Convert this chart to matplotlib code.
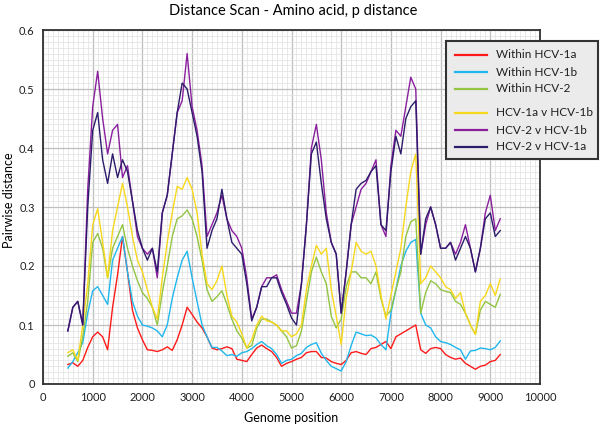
import matplotlib
matplotlib.use("Agg")
import matplotlib.pyplot as plt
import numpy as np
from matplotlib.ticker import MultipleLocator
from matplotlib.patches import Rectangle
from matplotlib.lines import Line2D

plt.rcParams['font.family'] = ['Lato', 'DejaVu Sans']

positions = list(range(500, 9201, 100))

within_1a = [0.033, 0.036, 0.03, 0.04, 0.062, 0.08, 0.088, 0.08, 0.058, 0.13,
             0.185, 0.25, 0.19, 0.125, 0.095, 0.075, 0.058, 0.057, 0.055, 0.058,
             0.063, 0.057, 0.075, 0.10, 0.13, 0.118, 0.105, 0.095, 0.08, 0.061,
             0.058, 0.06, 0.063, 0.06, 0.042, 0.04, 0.038, 0.05, 0.061, 0.066,
             0.06, 0.055, 0.045, 0.03, 0.035, 0.038, 0.042, 0.045, 0.053, 0.055,
             0.055, 0.045, 0.044, 0.038, 0.035, 0.033, 0.04, 0.053, 0.055, 0.052,
             0.05, 0.06, 0.062, 0.067, 0.072, 0.06, 0.08, 0.085, 0.09, 0.095,
             0.10, 0.058, 0.052, 0.06, 0.062, 0.06, 0.05, 0.045, 0.042, 0.044,
             0.035, 0.03, 0.025, 0.03, 0.032, 0.038, 0.04, 0.05]

within_1b = [0.027, 0.038, 0.053, 0.07, 0.12, 0.158, 0.165, 0.15, 0.135, 0.21,
             0.23, 0.25, 0.19, 0.14, 0.115, 0.10, 0.098, 0.095, 0.09, 0.08,
             0.10, 0.145, 0.18, 0.21, 0.225, 0.18, 0.14, 0.10, 0.08, 0.062,
             0.062, 0.056, 0.048, 0.05, 0.047, 0.053, 0.055, 0.06, 0.067, 0.072,
             0.065, 0.06, 0.05, 0.035, 0.04, 0.042, 0.048, 0.052, 0.062, 0.067,
             0.07, 0.052, 0.04, 0.03, 0.026, 0.022, 0.038, 0.065, 0.088, 0.085,
             0.082, 0.083, 0.078, 0.067, 0.058, 0.12, 0.16, 0.20, 0.225, 0.24,
             0.245, 0.12, 0.10, 0.095, 0.08, 0.072, 0.07, 0.067, 0.062, 0.058,
             0.042, 0.056, 0.057, 0.061, 0.06, 0.058, 0.062, 0.073]

within_2 = [0.047, 0.053, 0.038, 0.08, 0.14, 0.24, 0.255, 0.23, 0.18, 0.23,
            0.25, 0.27, 0.23, 0.20, 0.175, 0.155, 0.145, 0.13, 0.10, 0.155,
            0.20, 0.25, 0.28, 0.285, 0.295, 0.28, 0.25, 0.21, 0.16, 0.14,
            0.148, 0.158, 0.135, 0.11, 0.09, 0.078, 0.061, 0.065, 0.095, 0.11,
            0.11, 0.105, 0.10, 0.09, 0.08, 0.061, 0.065, 0.09, 0.14, 0.19,
            0.215, 0.19, 0.17, 0.115, 0.095, 0.11, 0.165, 0.19, 0.19, 0.18,
            0.18, 0.17, 0.19, 0.145, 0.115, 0.125, 0.16, 0.19, 0.25, 0.275,
            0.28, 0.12, 0.155, 0.175, 0.17, 0.16, 0.157, 0.155, 0.14, 0.135,
            0.12, 0.10, 0.084, 0.125, 0.14, 0.135, 0.13, 0.152]

v_1a_1b = [0.053, 0.058, 0.04, 0.10, 0.17, 0.27, 0.297, 0.24, 0.18, 0.26,
           0.30, 0.34, 0.30, 0.25, 0.21, 0.19, 0.16, 0.13, 0.11, 0.18,
           0.24, 0.29, 0.335, 0.33, 0.35, 0.33, 0.29, 0.22, 0.17, 0.16,
           0.175, 0.20, 0.15, 0.115, 0.105, 0.085, 0.061, 0.075, 0.10, 0.115,
           0.107, 0.105, 0.10, 0.09, 0.09, 0.08, 0.085, 0.10, 0.16, 0.20,
           0.235, 0.22, 0.23, 0.16, 0.115, 0.067, 0.145, 0.19, 0.24, 0.225,
           0.22, 0.225, 0.20, 0.15, 0.11, 0.15, 0.19, 0.23, 0.30, 0.36,
           0.39, 0.17, 0.18, 0.20, 0.19, 0.18, 0.165, 0.16, 0.145, 0.155,
           0.12, 0.10, 0.084, 0.14, 0.15, 0.17, 0.15, 0.178]

v_2_1b = [0.09, 0.13, 0.14, 0.10, 0.33, 0.47, 0.53, 0.45, 0.39, 0.43,
          0.44, 0.35, 0.37, 0.31, 0.25, 0.23, 0.22, 0.23, 0.18, 0.29,
          0.32, 0.39, 0.46, 0.48, 0.56, 0.47, 0.43, 0.37, 0.25, 0.27,
          0.29, 0.32, 0.28, 0.26, 0.25, 0.23, 0.18, 0.11, 0.13, 0.165,
          0.18, 0.18, 0.185, 0.16, 0.14, 0.12, 0.12, 0.17, 0.27, 0.40,
          0.44, 0.38, 0.29, 0.24, 0.22, 0.12, 0.19, 0.27, 0.30, 0.33,
          0.34, 0.36, 0.38, 0.27, 0.25, 0.37, 0.43, 0.42, 0.47, 0.52,
          0.50, 0.22, 0.27, 0.30, 0.27, 0.23, 0.23, 0.24, 0.22, 0.24,
          0.27, 0.23, 0.19, 0.23, 0.29, 0.32, 0.26, 0.28]

v_2_1a = [0.09, 0.13, 0.14, 0.10, 0.30, 0.43, 0.46, 0.38, 0.34, 0.39,
          0.35, 0.38, 0.36, 0.31, 0.26, 0.23, 0.21, 0.23, 0.19, 0.29,
          0.32, 0.39, 0.46, 0.51, 0.50, 0.46, 0.42, 0.36, 0.23, 0.26,
          0.28, 0.33, 0.28, 0.24, 0.23, 0.22, 0.17, 0.107, 0.13, 0.165,
          0.165, 0.18, 0.18, 0.155, 0.135, 0.112, 0.10, 0.17, 0.27, 0.39,
          0.41, 0.34, 0.28, 0.24, 0.22, 0.12, 0.19, 0.27, 0.33, 0.34,
          0.345, 0.36, 0.37, 0.27, 0.26, 0.36, 0.42, 0.39, 0.45, 0.47,
          0.48, 0.22, 0.28, 0.30, 0.27, 0.23, 0.23, 0.24, 0.21, 0.23,
          0.25, 0.23, 0.19, 0.23, 0.28, 0.29, 0.25, 0.26]

labels = ["Within HCV-1a", "Within HCV-1b", "Within HCV-2",
          "HCV-1a v HCV-1b", "HCV-2 v HCV-1b", "HCV-2 v HCV-1a"]
colors = ["#FF1A1A", "#1FB7EE", "#93C543", "#F8D81C", "#8A1F9E", "#2D1B6B"]
series = [within_1a, within_1b, within_2, v_1a_1b, v_2_1b, v_2_1a]

fig = plt.figure(figsize=(6, 4.25), dpi=100)
ax = fig.add_axes([43/600, 1 - 384/425, (540-43)/600, (384-30)/425])

for vals, c in zip(series, colors):
    ax.plot(positions, vals, color=c, lw=1.0, zorder=3)

ax.set_xlim(0, 10000)
ax.set_ylim(0, 0.6)
ax.xaxis.set_major_locator(MultipleLocator(1000))
ax.xaxis.set_minor_locator(MultipleLocator(100))
ax.yaxis.set_major_locator(MultipleLocator(0.1))
ax.yaxis.set_minor_locator(MultipleLocator(0.01))
ax.grid(which='major', color='#BEBEBE', lw=0.9, zorder=1)
ax.grid(which='minor', color='#E0E0E0', lw=0.5, zorder=0)
ax.set_axisbelow(True)
ax.tick_params(which='both', length=0, labelsize=8, colors='#202020', pad=6)
ax.set_yticks([0, 0.1, 0.2, 0.3, 0.4, 0.5, 0.6])
ax.set_yticklabels(["0", "0.1", "0.2", "0.3", "0.4", "0.5", "0.6"])
for s in ax.spines.values():
    s.set_color('#303030')
    s.set_linewidth(1.3)

ax.set_xlabel("Genome position", fontsize=9, labelpad=6)
fig.text(9/600, 1 - 200/425, "Pairwise distance", rotation=90,
         ha='center', va='center', fontsize=9)
fig.text(293/600, 1 - 11/425, "Distance Scan - Amino acid, p distance",
         ha='center', va='center', fontsize=10.5)

# legend box
box = Rectangle((446/600, 1 - 159/425), (598-446)/600, (159-41)/425,
                transform=fig.transFigure, facecolor='#EBEBEB',
                edgecolor='#333333', lw=1.5, zorder=4)
fig.patches.append(box)
row_y = [55, 72, 89, 113, 130, 147]
for lab, c, y in zip(labels, colors, row_y):
    yf = 1 - y/425
    fig.add_artist(Line2D([455/600, 487/600], [yf, yf], color=c, lw=1.6,
                          transform=fig.transFigure, zorder=5))
    fig.text(496/600, yf, lab, ha='left', va='center', fontsize=8.5,
             color='#202020', zorder=5)

fig.savefig("out.png", dpi=100)
